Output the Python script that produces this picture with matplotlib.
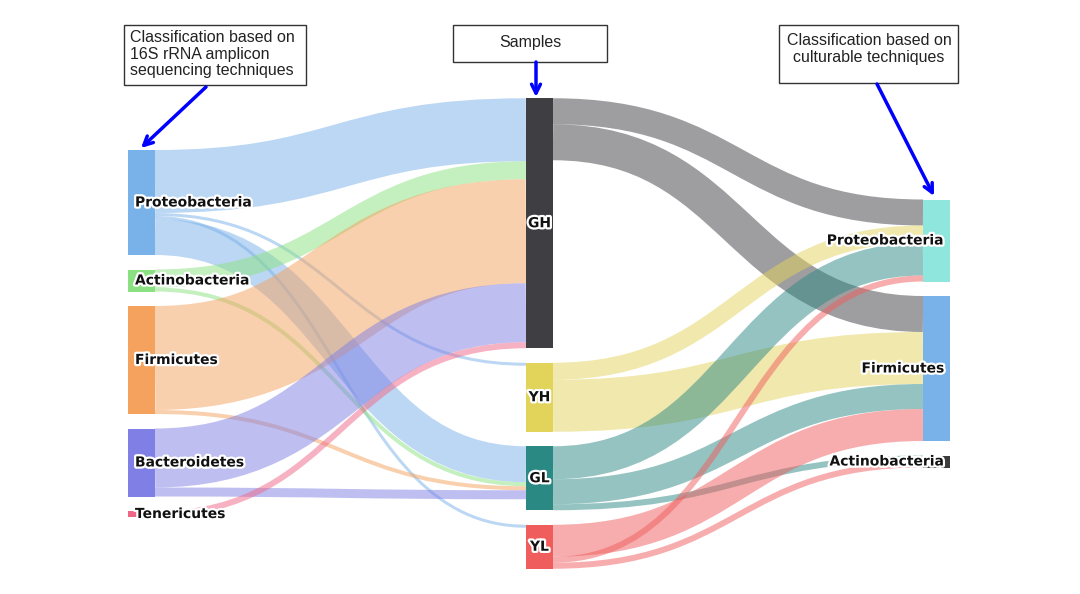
import matplotlib.pyplot as plt
from matplotlib.path import Path
from matplotlib.patches import PathPatch, Rectangle
import matplotlib.patheffects as pe

# ---- data -------------------------------------------------------------
left_nodes = ['Proteobacteria', 'Actinobacteria', 'Firmicutes', 'Bacteroidetes', 'Tenericutes']
mid_nodes = ['GH', 'YH', 'GL', 'YL']
right_nodes = ['Proteobacteria', 'Firmicutes', 'Actinobacteria']

# amplicon phyla -> samples (in the order they leave each phylum)
l_src = ['Proteobacteria', 'Proteobacteria', 'Proteobacteria', 'Proteobacteria',
         'Actinobacteria', 'Actinobacteria', 'Firmicutes', 'Firmicutes',
         'Bacteroidetes', 'Bacteroidetes', 'Tenericutes']
l_tgt = ['GH', 'YH', 'YL', 'GL', 'GH', 'GL', 'GH', 'GL', 'GH', 'GL', 'GH']
l_val = [63, 3, 3, 36, 18, 4, 104, 4, 59, 9, 6]

# samples -> culturable phyla
r_src = ['GH', 'GH', 'YH', 'YH', 'GL', 'GL', 'GL', 'YL', 'YL', 'YL']
r_tgt = ['Proteobacteria', 'Firmicutes', 'Proteobacteria', 'Firmicutes',
         'Proteobacteria', 'Firmicutes', 'Actinobacteria',
         'Firmicutes', 'Proteobacteria', 'Actinobacteria']
r_val = [26, 36, 17, 52, 33, 25, 6, 32, 6, 6]

left_colors = ['#79b1e9', '#8be181', '#f5a25e', '#7f7fe5', '#ef6787']
mid_colors = ['#3f3e43', '#e2d35a', '#2b8984', '#f05d5d']
right_colors = ['#8fe6dc', '#79b1e9', '#3c3c3c']

# ---- layout (pixel space) -------------------------------------------------
W, H = 1080, 594
node_w = 27
pad = 14.5
yc = 333.5
col_x = [128, 526, 923]

fig = plt.figure(figsize=(W / 100, H / 100), dpi=100)
ax = fig.add_axes([0, 0, 1, 1])
ax.set_xlim(0, W)
ax.set_ylim(H, 0)
ax.axis('off')

cols = [('L', left_nodes, left_colors), ('M', mid_nodes, mid_colors), ('R', right_nodes, right_colors)]
links = ([(('L', s), ('M', t), v) for s, t, v in zip(l_src, l_tgt, l_val)] +
         [(('M', s), ('R', t), v) for s, t, v in zip(r_src, r_tgt, r_val)])

nodes = {}
for ci, (key, names, colors) in enumerate(cols):
    sizes = []
    for n in names:
        vin = sum(v for s, t, v in links if t == (key, n))
        vout = sum(v for s, t, v in links if s == (key, n))
        sizes.append(max(vin, vout))
    total = sum(sizes) + pad * (len(names) - 1)
    y = yc - total / 2
    for n, h, c in zip(names, sizes, colors):
        nodes[(key, n)] = dict(x=col_x[ci], y=y, h=h, c=c, out=y, inn=y)
        y += h + pad

# links: stroked cubic curves, like d3-sankey
for s, t, v in links:
    ns, nt = nodes[s], nodes[t]
    y0 = ns['out'] + v / 2
    y1 = nt['inn'] + v / 2
    ns['out'] += v
    nt['inn'] += v
    x0 = ns['x'] + node_w
    x1 = nt['x']
    xm = (x0 + x1) / 2
    p = Path([(x0, y0), (xm, y0), (xm, y1), (x1, y1)],
             [Path.MOVETO, Path.CURVE4, Path.CURVE4, Path.CURVE4])
    ax.add_patch(PathPatch(p, facecolor='none', edgecolor=ns['c'], alpha=0.5,
                           lw=v * 0.72, capstyle='butt', zorder=1))

halo = [pe.withStroke(linewidth=3.2, foreground='white')]
for (key, n), nd in nodes.items():
    ax.add_patch(Rectangle((nd['x'], nd['y']), node_w, nd['h'], color=nd['c'], zorder=2, lw=0))
    cy = nd['y'] + nd['h'] / 2
    if key == 'L':
        tx, ha = nd['x'] + 7, 'left'
    elif key == 'M':
        tx, ha = nd['x'] + node_w / 2, 'center'
    else:
        tx, ha = nd['x'] + node_w - 6, 'right'
    ax.text(tx, cy, n, ha=ha, va='center', fontsize=10, fontweight='bold',
            color='#111111', path_effects=halo, zorder=3)

# ---- annotation boxes and arrows -----------------------------------------
box_font = dict(family='Liberation Sans', fontsize=11.5, color='#222222', zorder=5)

def note_box(x, y, w, h, txt, tx, ty, ha):
    ax.add_patch(Rectangle((x, y), w, h, facecolor='white', edgecolor='#333333', lw=1, zorder=4))
    ax.text(tx, ty, txt, ha=ha, va='center', linespacing=1.12, **box_font)

def blue_arrow(xy_from, xy_to):
    ax.annotate('', xy=xy_to, xytext=xy_from,
                arrowprops=dict(arrowstyle='->', color='#0000ff', lw=2.5,
                                mutation_scale=16, shrinkA=0, shrinkB=0), zorder=5)

note_box(124, 25, 182, 60, 'Classification based on\n16S rRNA amplicon\nsequencing techniques', 130, 54, 'left')
note_box(453, 25, 154, 37, 'Samples', 530, 43, 'center')
note_box(779, 25, 179, 58, 'Classification based on\nculturable techniques', 869, 49, 'center')

blue_arrow((206, 87), (141, 148))
blue_arrow((536, 62), (536, 97))
blue_arrow((877, 84), (934, 196))

fig.savefig('out.png', dpi=100)
